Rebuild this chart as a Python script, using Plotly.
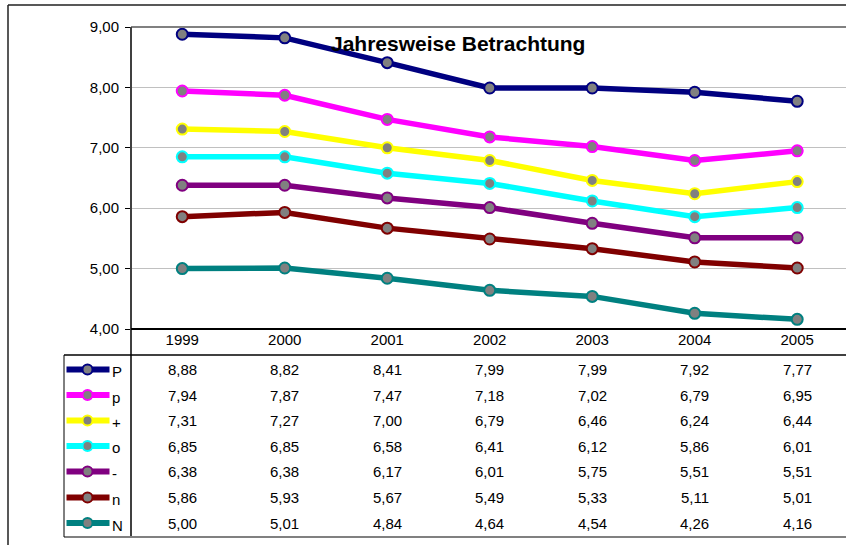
import plotly.graph_objects as go

years = ["1999", "2000", "2001", "2002", "2003", "2004", "2005"]
series_names = ["P", "p", "+", "o", "-", "n", "N"]
P_vals = [8.88, 8.82, 8.41, 7.99, 7.99, 7.92, 7.77]
p_vals = [7.94, 7.87, 7.47, 7.18, 7.02, 6.79, 6.95]
plus_vals = [7.31, 7.27, 7.00, 6.79, 6.46, 6.24, 6.44]
o_vals = [6.85, 6.85, 6.58, 6.41, 6.12, 5.86, 6.01]
minus_vals = [6.38, 6.38, 6.17, 6.01, 5.75, 5.51, 5.51]
n_vals = [5.86, 5.93, 5.67, 5.49, 5.33, 5.11, 5.01]
N_vals = [5.00, 5.01, 4.84, 4.64, 4.54, 4.26, 4.16]
all_vals = [P_vals, p_vals, plus_vals, o_vals, minus_vals, n_vals, N_vals]
colors = ["#000080", "#FF00FF", "#FFFF00", "#00FFFF", "#800080", "#800000", "#008080"]
title_text = "Jahresweise Betrachtung"

W, H = 846, 545
L, T, B = 131, 27, 329
FONT = "Liberation Sans, Arial, sans-serif"
FS = 15


def px(x):
    return (x - L) / (W - L)


def py(y):
    return (B - y) / (B - T)


fig = go.Figure()
for name, vals, col in zip(series_names, all_vals, colors):
    fig.add_trace(go.Scatter(
        x=years, y=vals, mode="lines+markers", name=name,
        line=dict(color=col, width=5.5),
        marker=dict(size=11, color="#808080", line=dict(color=col, width=2)),
        cliponaxis=False,
    ))

shapes = []
ann = []
# outer border
shapes.append(dict(type="line", xref="paper", yref="paper", x0=px(8), x1=px(W + 5), y0=py(5), y1=py(5),
                   line=dict(color="#202020", width=1.5)))
shapes.append(dict(type="line", xref="paper", yref="paper", x0=px(8), x1=px(8), y0=py(5), y1=py(H + 5),
                   line=dict(color="#202020", width=1.5)))
# plot top border
shapes.append(dict(type="line", xref="paper", yref="paper", x0=0, x1=1.01, y0=1, y1=1,
                   line=dict(color="#808080", width=2)))
# y axis line extended through table
shapes.append(dict(type="line", xref="paper", yref="paper", x0=0, x1=0, y0=1, y1=py(537),
                   line=dict(color="#404040", width=2)))
# x axis line
shapes.append(dict(type="line", xref="paper", yref="paper", x0=0, x1=1.01, y0=0, y1=0,
                   line=dict(color="#000000", width=2)))
# table lines
shapes.append(dict(type="line", xref="paper", yref="paper", x0=px(64), x1=1.01, y0=py(355), y1=py(355),
                   line=dict(color="#000000", width=1.5)))
shapes.append(dict(type="line", xref="paper", yref="paper", x0=px(64), x1=1.01, y0=py(537), y1=py(537),
                   line=dict(color="#808080", width=2)))
shapes.append(dict(type="line", xref="paper", yref="paper", x0=px(64), x1=px(64), y0=py(355), y1=py(537),
                   line=dict(color="#000000", width=1)))

row_y = [369.5, 395, 420.5, 446, 471.5, 497.5, 523]
for i, (name, vals, col) in enumerate(zip(series_names, all_vals, colors)):
    ry = row_y[i]
    shapes.append(dict(type="line", xref="paper", yref="paper", x0=px(66.5), x1=px(109.5), y0=py(ry), y1=py(ry),
                       line=dict(color=col, width=6)))
    shapes.append(dict(type="circle", xref="paper", yref="paper", xsizemode="pixel", ysizemode="pixel",
                       xanchor=px(87.5), yanchor=py(ry), x0=-5, x1=5, y0=-5, y1=5,
                       fillcolor="#808080", line=dict(color=col, width=2)))
    ann.append(dict(x=px(110), y=py(ry + 2), xref="paper", yref="paper", text=name, showarrow=False,
                    xanchor="left", yanchor="middle", font=dict(size=FS, color="#000", family=FONT)))
    for j, v in enumerate(vals):
        ann.append(dict(x=j, y=py(ry), xref="x", yref="paper", text=f"{v:.2f}".replace(".", ","),
                        showarrow=False, xanchor="center", yanchor="middle",
                        font=dict(size=FS, color="#000", family=FONT)))

ann.append(dict(x=px(458), y=py(43), xref="paper", yref="paper", text="<b>" + title_text + "</b>",
                showarrow=False, xanchor="center", yanchor="middle",
                font=dict(size=21, color="#000", family=FONT)))

fig.update_layout(
    width=W, height=H,
    margin=dict(l=L, r=0, t=T, b=H - B, pad=0),
    paper_bgcolor="white", plot_bgcolor="white",
    showlegend=False,
    separators=",.",
    font=dict(family=FONT, size=FS, color="#000"),
    shapes=shapes, annotations=ann,
    xaxis=dict(type="category", range=[-0.5, 6.476], showgrid=False, zeroline=False, showline=False,
               ticks="", tickfont=dict(size=FS, color="#000")),
    yaxis=dict(range=[4, 9], dtick=1, tickformat=".2f", showgrid=True, gridcolor="#c0c0c0", gridwidth=1,
               zeroline=False, showline=False, ticks="outside", ticklen=5, tickcolor="#000", tickwidth=1,
               ticklabelstandoff=3, tickfont=dict(size=FS, color="#000")),
)

fig.write_html("out.html", config={"displayModeBar": False},
               post_script="document.body.style.margin='0';document.body.style.overflow='hidden';")
